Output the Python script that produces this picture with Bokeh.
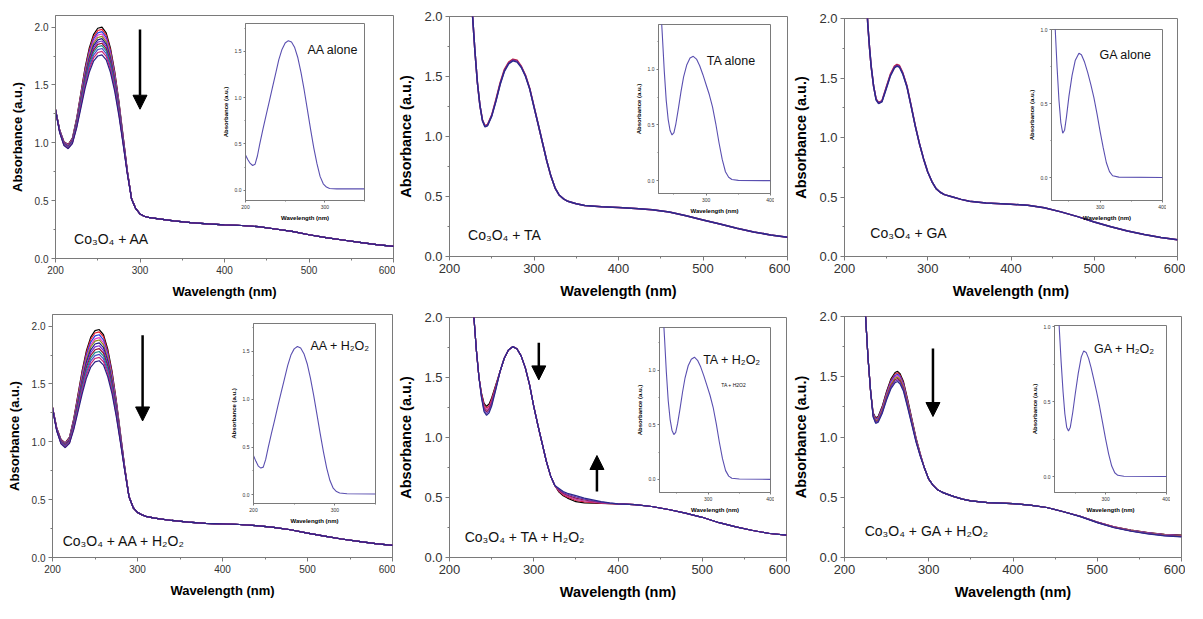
from bokeh.plotting import figure
from bokeh.models import (GridBox, Range1d, SingleIntervalTicker, PrintfTickFormatter,
                          Arrow, NormalHead, Label)
from bokeh.embed import file_html
from bokeh.resources import INLINE

FONT = "Liberation Sans"
AXIS_GRAY = "#7a7a7a"
INSET_COLOR = "#5a4fb0"

# ======================= DATA =======================
# (a) Co3O4 + AA : 12 spectra, they differ only around the peak
AA_HEAD_WL = [200, 205, 210, 215, 220, 225, 230, 235, 240, 245, 250, 255, 260, 265, 270, 275, 280, 285, 290]
AA_HEAD = [
    [1.29, 1.11, 1.01, 0.985, 1.04, 1.21, 1.43, 1.65, 1.82, 1.935, 1.99, 2.0, 1.95, 1.82, 1.62, 1.36, 1.06, 0.76, 0.52],
    [1.289, 1.108, 1.007, 0.982, 1.036, 1.203, 1.419, 1.635, 1.802, 1.916, 1.97, 1.98, 1.931, 1.802, 1.606, 1.35, 1.054, 0.758, 0.519],
    [1.288, 1.106, 1.004, 0.979, 1.032, 1.196, 1.408, 1.62, 1.785, 1.897, 1.95, 1.96, 1.911, 1.785, 1.591, 1.339, 1.048, 0.755, 0.519],
    [1.287, 1.104, 1.002, 0.976, 1.028, 1.189, 1.397, 1.605, 1.767, 1.877, 1.93, 1.94, 1.892, 1.767, 1.577, 1.329, 1.042, 0.753, 0.518],
    [1.286, 1.102, 0.999, 0.973, 1.024, 1.182, 1.386, 1.59, 1.75, 1.858, 1.91, 1.92, 1.872, 1.75, 1.562, 1.318, 1.036, 0.75, 0.518],
    [1.285, 1.10, 0.996, 0.97, 1.02, 1.175, 1.375, 1.575, 1.732, 1.839, 1.89, 1.90, 1.853, 1.732, 1.548, 1.308, 1.03, 0.748, 0.517],
    [1.284, 1.098, 0.993, 0.967, 1.016, 1.168, 1.364, 1.56, 1.714, 1.82, 1.87, 1.88, 1.834, 1.714, 1.534, 1.298, 1.024, 0.746, 0.516],
    [1.283, 1.096, 0.99, 0.964, 1.012, 1.161, 1.353, 1.545, 1.697, 1.801, 1.85, 1.86, 1.814, 1.697, 1.519, 1.287, 1.018, 0.743, 0.516],
    [1.282, 1.094, 0.988, 0.961, 1.008, 1.154, 1.342, 1.53, 1.679, 1.781, 1.83, 1.84, 1.795, 1.679, 1.505, 1.277, 1.012, 0.741, 0.515],
    [1.281, 1.091, 0.984, 0.957, 1.003, 1.145, 1.328, 1.511, 1.657, 1.757, 1.805, 1.815, 1.771, 1.657, 1.487, 1.264, 1.004, 0.738, 0.514],
    [1.279, 1.089, 0.981, 0.953, 0.998, 1.136, 1.314, 1.492, 1.635, 1.733, 1.78, 1.79, 1.746, 1.635, 1.469, 1.251, 0.997, 0.735, 0.514],
    [1.278, 1.086, 0.976, 0.949, 0.992, 1.126, 1.298, 1.47, 1.609, 1.705, 1.75, 1.76, 1.717, 1.609, 1.447, 1.235, 0.988, 0.731, 0.513],
]
AA_TAIL_WL = [295, 300, 305, 310, 320, 340, 360, 380, 400, 420, 440, 460, 480, 500, 520, 540, 560, 580, 600]
AA_TAIL = [0.43, 0.385, 0.365, 0.355, 0.345, 0.325, 0.31, 0.30, 0.29, 0.285, 0.275, 0.255, 0.235, 0.205, 0.18, 0.16, 0.14, 0.12, 0.105]

AA_INSET_WL = [200, 203, 206, 209, 212, 215, 218, 222, 226, 230, 234, 238, 242, 246, 250, 254, 258, 262, 266,
               270, 274, 278, 282, 286, 290, 294, 298, 302, 306, 315, 350]
AA_INSET = [0.38, 0.33, 0.29, 0.268, 0.28, 0.37, 0.50, 0.66, 0.81, 0.96, 1.11, 1.26, 1.41, 1.52, 1.59, 1.615, 1.60,
            1.54, 1.43, 1.27, 1.08, 0.87, 0.66, 0.46, 0.29, 0.15, 0.07, 0.035, 0.02, 0.015, 0.015]

# (b) Co3O4 + TA
TA_LEFT_WL = [225, 228, 230, 233, 236]
TA_LEFT = [2.25, 1.93, 1.72, 1.45, 1.26]
TA_PEAK_WL = [239, 242, 245, 250, 255, 260, 265, 270, 275, 280, 285, 290, 295, 300]
TA_PEAK = [
    [1.14, 1.09, 1.10, 1.18, 1.31, 1.45, 1.56, 1.62, 1.645, 1.635, 1.585, 1.51, 1.40, 1.25],
    [1.135, 1.085, 1.095, 1.175, 1.30, 1.44, 1.55, 1.612, 1.637, 1.628, 1.58, 1.505, 1.397, 1.248],
    [1.13, 1.08, 1.09, 1.17, 1.295, 1.435, 1.543, 1.605, 1.63, 1.62, 1.575, 1.50, 1.393, 1.245],
]
TA_TAIL_WL = [305, 310, 315, 320, 325, 330, 335, 340, 350, 360, 380, 400, 420, 440, 460, 480, 500, 520, 540, 560, 580, 600]
TA_TAIL = [1.10, 0.95, 0.80, 0.67, 0.57, 0.51, 0.48, 0.46, 0.44, 0.425, 0.415, 0.408, 0.40, 0.39, 0.37, 0.34,
           0.305, 0.27, 0.235, 0.205, 0.18, 0.16]

TA_INSET_WL = [226, 229, 232, 235, 238, 241, 244, 247, 250, 253, 257, 261, 265, 270, 275, 280, 285, 290, 295, 300,
               305, 310, 315, 320, 325, 330, 335, 340, 350, 400]
TA_INSET = [2.0, 1.6, 1.30, 0.98, 0.72, 0.55, 0.45, 0.41, 0.43, 0.51, 0.65, 0.80, 0.93, 1.04, 1.10, 1.115, 1.09,
            1.03, 0.95, 0.86, 0.77, 0.66, 0.51, 0.34, 0.19, 0.08, 0.03, 0.01, 0.003, 0.0]

# (c) Co3O4 + GA
GA_LEFT_WL = [226, 228, 230, 232, 235]
GA_LEFT = [2.2, 1.95, 1.76, 1.6, 1.43]
GA_PEAK_WL = [238, 241, 245, 250, 255, 260, 263, 266, 270, 275, 280, 285, 290]
GA_PEAK = [
    [1.325, 1.295, 1.31, 1.42, 1.53, 1.60, 1.615, 1.605, 1.545, 1.435, 1.27, 1.10, 0.95],
    [1.32, 1.29, 1.305, 1.413, 1.522, 1.592, 1.607, 1.598, 1.54, 1.43, 1.267, 1.098, 0.949],
    [1.315, 1.285, 1.30, 1.406, 1.515, 1.585, 1.60, 1.59, 1.533, 1.425, 1.263, 1.095, 0.948],
]
GA_TAIL_WL = [295, 300, 305, 310, 315, 320, 330, 340, 350, 370, 400, 420, 440, 460, 480, 500, 520, 540, 560, 580, 600]
GA_TAIL = [0.82, 0.71, 0.63, 0.57, 0.54, 0.52, 0.50, 0.48, 0.465, 0.45, 0.44, 0.43, 0.41, 0.375, 0.335, 0.29,
           0.25, 0.215, 0.185, 0.16, 0.14]

GA_INSET_WL = [226, 228, 231, 234, 237, 240, 243, 246, 250, 255, 260, 266, 270, 275, 280, 285, 290, 295, 300, 305,
               310, 315, 320, 330, 400]
GA_INSET = [1.2, 1.0, 0.74, 0.52, 0.37, 0.30, 0.32, 0.41, 0.55, 0.69, 0.79, 0.84, 0.83, 0.78, 0.71, 0.63, 0.54,
            0.43, 0.31, 0.20, 0.10, 0.04, 0.012, 0.003, 0.0]

# (d) Co3O4 + AA + H2O2
AAH_HEAD_WL = AA_HEAD_WL
AAH_HEAD = [
    [1.30, 1.12, 1.02, 0.99, 1.04, 1.20, 1.41, 1.62, 1.79, 1.905, 1.96, 1.97, 1.925, 1.80, 1.61, 1.36, 1.07, 0.78, 0.53],
    [1.299, 1.118, 1.017, 0.987, 1.036, 1.193, 1.399, 1.605, 1.772, 1.886, 1.94, 1.95, 1.906, 1.782, 1.596, 1.35, 1.064, 0.778, 0.529],
    [1.298, 1.115, 1.014, 0.983, 1.031, 1.184, 1.385, 1.586, 1.75, 1.862, 1.915, 1.925, 1.881, 1.76, 1.578, 1.337, 1.056, 0.775, 0.529],
    [1.296, 1.113, 1.01, 0.979, 1.026, 1.175, 1.371, 1.567, 1.728, 1.838, 1.89, 1.90, 1.857, 1.738, 1.56, 1.324, 1.049, 0.772, 0.528],
    [1.295, 1.111, 1.007, 0.976, 1.022, 1.168, 1.36, 1.552, 1.711, 1.819, 1.87, 1.88, 1.838, 1.721, 1.545, 1.313, 1.043, 0.769, 0.527],
    [1.294, 1.108, 1.004, 0.973, 1.017, 1.16, 1.347, 1.534, 1.689, 1.795, 1.845, 1.855, 1.813, 1.699, 1.527, 1.30, 1.035, 0.766, 0.527],
    [1.293, 1.106, 1.00, 0.969, 1.012, 1.151, 1.333, 1.515, 1.667, 1.771, 1.82, 1.83, 1.789, 1.677, 1.509, 1.287, 1.028, 0.763, 0.526],
    [1.292, 1.103, 0.997, 0.965, 1.007, 1.142, 1.319, 1.496, 1.645, 1.747, 1.795, 1.805, 1.765, 1.655, 1.491, 1.274, 1.02, 0.76, 0.525],
    [1.29, 1.101, 0.993, 0.961, 1.002, 1.133, 1.305, 1.477, 1.623, 1.723, 1.77, 1.78, 1.741, 1.633, 1.473, 1.261, 1.013, 0.757, 0.524],
    [1.289, 1.098, 0.99, 0.958, 0.997, 1.125, 1.292, 1.459, 1.601, 1.699, 1.745, 1.755, 1.716, 1.611, 1.455, 1.248, 1.005, 0.754, 0.524],
    [1.288, 1.096, 0.986, 0.954, 0.992, 1.116, 1.278, 1.44, 1.579, 1.675, 1.72, 1.73, 1.692, 1.589, 1.437, 1.235, 0.998, 0.751, 0.523],
    [1.286, 1.093, 0.982, 0.949, 0.986, 1.105, 1.261, 1.417, 1.552, 1.646, 1.69, 1.70, 1.663, 1.562, 1.416, 1.22, 0.989, 0.748, 0.522],
]
AAH_TAIL_WL = [295, 300, 305, 310, 320, 340, 360, 380, 400, 420, 440, 460, 480, 500, 520, 540, 560, 580, 600]
AAH_TAIL = [0.43, 0.39, 0.37, 0.355, 0.34, 0.32, 0.305, 0.295, 0.29, 0.285, 0.275, 0.26, 0.24, 0.21, 0.185, 0.16, 0.14, 0.12, 0.105]

AAH_INSET_WL = AA_INSET_WL
AAH_INSET = [0.41, 0.35, 0.30, 0.28, 0.29, 0.37, 0.49, 0.64, 0.78, 0.93, 1.07, 1.21, 1.35, 1.46, 1.525, 1.55, 1.535,
             1.475, 1.37, 1.22, 1.04, 0.84, 0.64, 0.45, 0.28, 0.15, 0.07, 0.035, 0.02, 0.012, 0.01]

# (e) Co3O4 + TA + H2O2 : 6 spectra, differ at the minimum and at the 330-390 nm shoulder
TAH_LEFT_WL = [224, 227, 229, 232, 235]
TAH_LEFT = [2.4, 2.15, 2.0, 1.72, 1.50]
TAH_MIN_WL = [238, 241, 244, 247, 250, 255]
TAH_MIN = [
    [1.370, 1.285, 1.260, 1.280, 1.330, 1.440],
    [1.362, 1.271, 1.245, 1.265, 1.316, 1.432],
    [1.354, 1.257, 1.230, 1.250, 1.302, 1.424],
    [1.346, 1.243, 1.215, 1.235, 1.288, 1.416],
    [1.338, 1.229, 1.200, 1.220, 1.274, 1.408],
    [1.330, 1.215, 1.185, 1.205, 1.260, 1.400],
]
TAH_MID_WL = [260, 265, 270, 275, 280, 285, 290, 295, 300, 305, 310, 315, 320, 325]
TAH_MID = [1.55, 1.66, 1.73, 1.757, 1.74, 1.68, 1.58, 1.44, 1.26, 1.10, 0.95, 0.80, 0.68, 0.60]
TAH_SH_WL = [330, 335, 340, 350, 360, 370, 380, 390]
TAH_SH = [
    [0.545, 0.515, 0.495, 0.465, 0.455, 0.452, 0.450, 0.448],
    [0.551, 0.522, 0.503, 0.475, 0.463, 0.458, 0.453, 0.449],
    [0.557, 0.529, 0.511, 0.485, 0.471, 0.463, 0.456, 0.450],
    [0.563, 0.536, 0.519, 0.495, 0.479, 0.469, 0.459, 0.452],
    [0.569, 0.543, 0.527, 0.505, 0.487, 0.474, 0.462, 0.453],
    [0.575, 0.550, 0.535, 0.515, 0.495, 0.480, 0.465, 0.455],
]
TAH_TAIL_WL = [400, 420, 440, 460, 480, 500, 520, 540, 560, 580, 600]
TAH_TAIL = [0.447, 0.44, 0.425, 0.40, 0.37, 0.335, 0.29, 0.255, 0.225, 0.20, 0.187]

TAH_INSET_WL = [224, 227, 230, 233, 236, 239, 242, 245, 248, 251, 255, 259, 263, 268, 273, 278, 283, 288, 293, 298,
                303, 308, 313, 318, 323, 328, 333, 338, 350, 400]
TAH_INSET = [2.0, 1.6, 1.30, 0.98, 0.72, 0.55, 0.45, 0.41, 0.43, 0.51, 0.65, 0.80, 0.93, 1.04, 1.10, 1.118, 1.09,
             1.03, 0.95, 0.86, 0.77, 0.66, 0.51, 0.34, 0.19, 0.08, 0.03, 0.01, 0.003, 0.0]

# (f) Co3O4 + GA + H2O2 : 8 spectra
GAH_LEFT_WL = [222, 225, 228, 231]
GAH_LEFT = [2.4, 2.0, 1.65, 1.38]
GAH_PEAK_WL = [234, 237, 240, 245, 250, 255, 260, 263, 266, 270, 275, 280, 285, 290]
GAH_PEAK = [
    [1.200, 1.160, 1.170, 1.260, 1.380, 1.480, 1.535, 1.545, 1.525, 1.460, 1.310, 1.150, 0.990, 0.860],
    [1.195, 1.153, 1.163, 1.252, 1.370, 1.469, 1.523, 1.533, 1.513, 1.449, 1.300, 1.143, 0.985, 0.857],
    [1.190, 1.147, 1.157, 1.243, 1.360, 1.457, 1.511, 1.521, 1.501, 1.437, 1.291, 1.136, 0.980, 0.854],
    [1.186, 1.140, 1.150, 1.235, 1.349, 1.446, 1.499, 1.509, 1.489, 1.426, 1.281, 1.128, 0.976, 0.851],
    [1.181, 1.134, 1.144, 1.226, 1.339, 1.434, 1.487, 1.497, 1.477, 1.414, 1.272, 1.121, 0.971, 0.848],
    [1.176, 1.127, 1.137, 1.218, 1.329, 1.423, 1.475, 1.485, 1.465, 1.403, 1.262, 1.114, 0.966, 0.845],
    [1.171, 1.120, 1.130, 1.210, 1.319, 1.412, 1.463, 1.473, 1.453, 1.392, 1.252, 1.107, 0.961, 0.842],
    [1.166, 1.113, 1.123, 1.200, 1.308, 1.399, 1.450, 1.460, 1.440, 1.379, 1.242, 1.099, 0.956, 0.839],
]
GAH_MID_WL = [295, 300, 305, 310, 315, 320, 330, 340, 350, 370, 400, 420, 440, 460]
GAH_MID = [0.74, 0.65, 0.60, 0.565, 0.545, 0.53, 0.505, 0.485, 0.47, 0.455, 0.447, 0.435, 0.415, 0.38]
GAH_TAIL_WL = [480, 500, 520, 540, 560, 580, 600]
GAH_TAIL = [
    [0.342, 0.295, 0.255, 0.228, 0.207, 0.193, 0.185],
    [0.342, 0.294, 0.254, 0.227, 0.206, 0.191, 0.183],
    [0.341, 0.294, 0.253, 0.225, 0.204, 0.189, 0.181],
    [0.341, 0.293, 0.252, 0.224, 0.203, 0.187, 0.179],
    [0.340, 0.292, 0.251, 0.223, 0.201, 0.185, 0.177],
    [0.340, 0.291, 0.250, 0.221, 0.199, 0.183, 0.175],
    [0.339, 0.290, 0.249, 0.220, 0.198, 0.181, 0.173],
    [0.339, 0.289, 0.247, 0.218, 0.196, 0.179, 0.171],
]

GAH_INSET_WL = [222, 224, 227, 230, 233, 236, 239, 242, 246, 250, 255, 260, 264, 268, 272, 276, 280, 285, 290, 295,
                300, 305, 310, 315, 320, 330, 400]
GAH_INSET = [1.15, 0.98, 0.76, 0.57, 0.42, 0.33, 0.305, 0.33, 0.43, 0.55, 0.69, 0.80, 0.84, 0.83, 0.79, 0.73, 0.66,
             0.57, 0.47, 0.36, 0.25, 0.15, 0.07, 0.025, 0.008, 0.002, 0.0]

# Line colours (Origin-like palette), last one drawn on top
AA_COLORS = ["#000000", "#e8202e", "#2a3fe0", "#e23cc8", "#8a8a1a", "#1a1a86",
             "#7d2ed0", "#8c1030", "#1f8a8a", "#4a4ac8", "#c8287a", "#2b2185"]
THREE_COLORS = ["#c0203c", "#7a2aa0", "#2b2a8c"]
TAH_COLORS = ["#000000", "#d0203a", "#c03ca8", "#8c1a50", "#6a36b0", "#2b2a8c"]
GAH_COLORS = ["#000000", "#d0203a", "#2a3fe0", "#d23cc0", "#8a8a1a", "#8c1a50", "#6a36b0", "#2b2a8c"]

# ======================= LAYOUT / STYLE =======================
PW, PH = 395, 301

PANELS = [
    dict(wl=[AA_HEAD_WL, AA_TAIL_WL], val=[AA_HEAD, AA_TAIL], colors=AA_COLORS, lw=1.2, ytop=2.1,
         border=(55, 15, 2, 43), tick_fs="10px", title_fs="13px",
         label=("Co₃O₄ + AA", 222, 0.17), arrows=[(300, 1.98, 1.29)],
         inset=dict(wl=AA_INSET_WL, val=AA_INSET, xr=(200, 350), yr=(-0.11, 1.8), rect=(245, 23, 364, 203),
                    texts=[("AA alone", 278, 1.51, "12.5px")])),
    dict(wl=[TA_LEFT_WL, TA_PEAK_WL, TA_TAIL_WL], val=[TA_LEFT, TA_PEAK, TA_TAIL], colors=THREE_COLORS, lw=1.5,
         ytop=2.0, border=(52, 16, 3, 42), tick_fs="13px", title_fs="14.5px",
         label=("Co₃O₄ + TA", 222, 0.18), arrows=[],
         inset=dict(wl=TA_INSET_WL, val=TA_INSET, xr=(226, 400), yr=(-0.115, 1.4), rect=(263, 24, 375, 196),
                    texts=[("TA alone", 301, 1.07, "12.5px")])),
    dict(wl=[GA_LEFT_WL, GA_PEAK_WL, GA_TAIL_WL], val=[GA_LEFT, GA_PEAK, GA_TAIL], colors=THREE_COLORS, lw=1.5,
         ytop=2.0, border=(53, 18, 8, 43), tick_fs="13px", title_fs="14.5px",
         label=("Co₃O₄ + GA", 231, 0.2), arrows=[],
         inset=dict(wl=GA_INSET_WL, val=GA_INSET, xr=(222, 400), yr=(-0.155, 1.0), rect=(261, 29, 372, 203),
                    texts=[("GA alone", 299, 0.83, "12.5px")])),
    dict(wl=[AAH_HEAD_WL, AAH_TAIL_WL], val=[AAH_HEAD, AAH_TAIL], colors=AA_COLORS, lw=1.2, ytop=2.1,
         border=(52, 13, 3, 45), tick_fs="10px", title_fs="13px",
         label=("Co₃O₄ + AA + H₂O₂", 212, 0.14), arrows=[(306, 1.92, 1.18)],
         inset=dict(wl=AAH_INSET_WL, val=AAH_INSET, xr=(200, 350), yr=(-0.09, 1.79), rect=(253, 22, 375, 205),
                    texts=[("AA + H₂O₂", 270, 1.56, "12.5px")])),
    dict(wl=[TAH_LEFT_WL, TAH_MIN_WL, TAH_MID_WL, TAH_SH_WL, TAH_TAIL_WL],
         val=[TAH_LEFT, TAH_MIN, TAH_MID, TAH_SH, TAH_TAIL], colors=TAH_COLORS, lw=1.2,
         ytop=2.0, border=(53, 16, 4, 43), tick_fs="13px", title_fs="14.5px",
         label=("Co₃O₄ + TA + H₂O₂", 218, 0.17), arrows=[(306, 1.79, 1.48), (375, 0.55, 0.85)],
         inset=dict(wl=TAH_INSET_WL, val=TAH_INSET, xr=(222, 400), yr=(-0.12, 1.39), rect=(264, 26, 375, 194),
                    texts=[("TA + H₂O₂", 292, 1.09, "12.5px"), ("TA + H2O2", 321, 0.86, "5px")])),
    dict(wl=[GAH_LEFT_WL, GAH_PEAK_WL, GAH_MID_WL, GAH_TAIL_WL],
         val=[GAH_LEFT, GAH_PEAK, GAH_MID, GAH_TAIL], colors=GAH_COLORS, lw=1.2,
         ytop=2.0, border=(52, 15, 4, 41), tick_fs="13px", title_fs="14.5px",
         label=("Co₃O₄ + GA + H₂O₂", 224, 0.22), arrows=[(305, 1.735, 1.17)],
         inset=dict(wl=GAH_INSET_WL, val=GAH_INSET, xr=(216, 400), yr=(-0.107, 1.01), rect=(264, 24, 376, 194),
                    texts=[("GA + H₂O₂", 281, 0.85, "12.5px")])),
]


def build_curves(parts_wl, parts_val, n):
    xs, ys = [], []
    for i in range(n):
        x, y = [], []
        for wl, vals in zip(parts_wl, parts_val):
            v = vals[i] if isinstance(vals[0], list) else vals
            x += list(wl)
            y += list(v)
        xs.append(x)
        ys.append(y)
    return xs, ys


def style_axes(p, tick_fs, title_fs, tick_out, minor_out, lab_stand, title_stand, line_w=1):
    for ax in (p.xaxis[0], p.yaxis[0]):
        ax.axis_line_color = AXIS_GRAY
        ax.axis_line_width = line_w
        ax.major_tick_line_color = AXIS_GRAY
        ax.minor_tick_line_color = AXIS_GRAY
        ax.major_tick_in = 0
        ax.major_tick_out = tick_out
        ax.minor_tick_in = 0
        ax.minor_tick_out = minor_out
        ax.major_label_text_font = FONT
        ax.major_label_text_font_size = tick_fs
        ax.major_label_text_color = "#333333"
        ax.major_label_standoff = lab_stand
        ax.axis_label_text_font = FONT
        ax.axis_label_text_font_style = "bold"
        ax.axis_label_text_font_size = title_fs
        ax.axis_label_text_color = "#000000"
        ax.axis_label_standoff = title_stand
    p.yaxis.formatter = PrintfTickFormatter(format="%.1f")
    p.xaxis.axis_label = "Wavelength (nm)"
    p.yaxis.axis_label = "Absorbance (a.u.)"
    p.grid.visible = False
    p.outline_line_color = AXIS_GRAY


def make_panel(cfg):
    bl, bt, br, bb = cfg["border"]
    p = figure(width=PW, height=PH, x_range=Range1d(200, 600), y_range=Range1d(0, cfg["ytop"]),
               output_backend="svg", toolbar_location=None,
               min_border_left=bl, min_border_top=bt, min_border_right=br, min_border_bottom=bb)
    p.background_fill_color = "white"
    p.border_fill_color = "white"
    p.xaxis.ticker = SingleIntervalTicker(interval=100, num_minor_ticks=2)
    p.yaxis.ticker = SingleIntervalTicker(interval=0.5, num_minor_ticks=2)
    style_axes(p, cfg["tick_fs"], cfg["title_fs"], 4, 2, 3, 7)

    n = len(cfg["colors"])
    xs, ys = build_curves(cfg["wl"], cfg["val"], n)
    for x, y, c in zip(xs, ys, cfg["colors"]):
        p.line(x, y, line_color=c, line_width=cfg["lw"])

    txt, lx, ly = cfg["label"]
    p.add_layout(Label(x=lx, y=ly, text=txt, text_font=FONT, text_font_size="14px",
                       text_baseline="middle", text_align="left", text_color="#111111"))
    for ax_, y0, y1 in cfg["arrows"]:
        p.add_layout(Arrow(end=NormalHead(size=14, fill_color="black", line_color="black"),
                           x_start=ax_, y_start=y0, x_end=ax_, y_end=y1,
                           line_color="black", line_width=2.5))

    ins = cfg["inset"]
    L, T, R, B = ins["rect"]
    il, ir, it, ib = 26, 4, 3, 20
    q = figure(width=(R - L) + il + ir, height=(B - T) + it + ib,
               x_range=Range1d(*ins["xr"]), y_range=Range1d(*ins["yr"]),
               output_backend="svg", toolbar_location=None,
               min_border_left=il, min_border_right=ir, min_border_top=it, min_border_bottom=ib)
    q.background_fill_color = "white"
    q.border_fill_alpha = 0
    q.xaxis.ticker = SingleIntervalTicker(interval=100, num_minor_ticks=2)
    q.yaxis.ticker = SingleIntervalTicker(interval=0.5, num_minor_ticks=2)
    style_axes(q, "5px", "6px", 2, 1, 2, 3)
    q.line(ins["wl"], ins["val"], line_color=INSET_COLOR, line_width=1.1)
    for t, tx, ty, fs in ins["texts"]:
        q.add_layout(Label(x=tx, y=ty, text=t, text_font=FONT, text_font_size=fs,
                           text_baseline="middle", text_align="left", text_color="#111111"))

    cl, ct = L - il, T - it
    iw, ih = (R - L) + il + ir, (B - T) + it + ib
    cols = [f"{cl}px", f"{iw}px", f"{PW - cl - iw}px"]
    rows = [f"{ct}px", f"{ih}px", f"{PH - ct - ih}px"]
    return GridBox(children=[(p, 0, 0, 3, 3), (q, 1, 1)], cols=cols, rows=rows, spacing=0)


panels = [make_panel(c) for c in PANELS]
root = GridBox(children=[(panels[i], i // 3, i % 3) for i in range(6)],
               cols=[f"{PW}px"] * 3, rows=[f"{PH}px"] * 2, spacing=0)

open("out.html", "w").write(file_html(root, INLINE))
